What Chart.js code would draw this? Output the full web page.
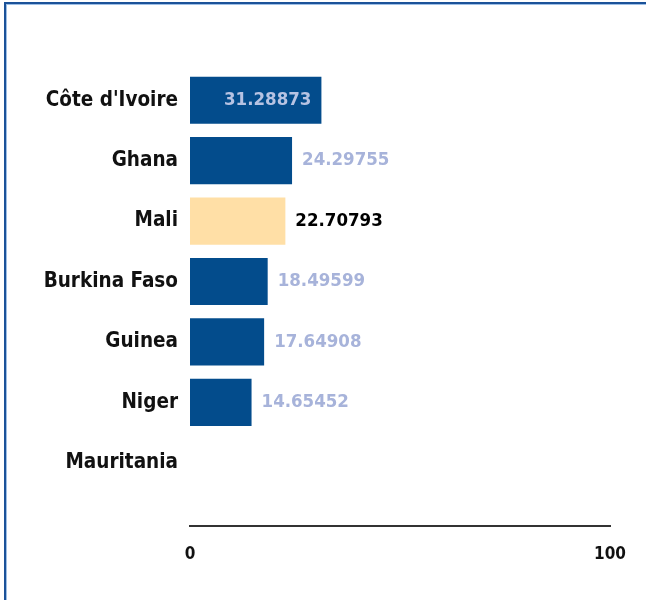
<!DOCTYPE html>
<html>
<head>
<meta charset="utf-8">
<script src="https://cdn.jsdelivr.net/npm/chart.js@4.4.1/dist/chart.umd.min.js"></script>
<style>
  html, body { margin: 0; padding: 0; background: #fff; }
  #wrap { position: relative; width: 646px; height: 600px; overflow: hidden; }
  #frame { position: absolute; left: 4px; top: 2px; width: 700px; height: 700px;
           border-left: 2px solid #1b5299; border-top: 2px solid #1b5299;
           box-shadow: inset 1px 1px 0 #9dbfe6; }
  #c { position: absolute; left: 0; top: 0; }
</style>
</head>
<body>
<div id="wrap">
  <div id="frame"></div>
  <canvas id="c" width="646" height="600"></canvas>
</div>
<script>
// data
const countries = ['Côte d\'Ivoire', 'Ghana', 'Mali', 'Burkina Faso', 'Guinea', 'Niger', 'Mauritania'];
const values = [31.28873, 24.29755, 22.70793, 18.49599, 17.64908, 14.65452, null];
const highlight = 'Mali';
const xTicks = [0, 100];

const BLUE = '#034c8c', PEACH = '#ffdfa6';
const FONT = '"DejaVu Sans Condensed", "DejaVu Sans", sans-serif';

// value labels next to / inside the bars
const valueLabels = {
  id: 'valueLabels',
  afterDatasetsDraw(chart) {
    const ctx = chart.ctx;
    const meta = chart.getDatasetMeta(0);
    const maxV = Math.max(...values.filter(v => v != null));
    ctx.save();
    ctx.font = 'bold 18.5px ' + FONT;
    ctx.textBaseline = 'middle';
    meta.data.forEach((bar, i) => {
      const v = values[i];
      if (v == null) return;
      const txt = v.toFixed(5);
      if (v === maxV) {
        ctx.textAlign = 'right';
        ctx.fillStyle = '#b7c3e3';
        ctx.fillText(txt, bar.x - 10, bar.y);
      } else {
        ctx.textAlign = 'left';
        ctx.fillStyle = countries[i] === highlight ? '#000' : '#a7b3da';
        ctx.fillText(txt, bar.x + 10, bar.y);
      }
    });
    ctx.restore();
  }
};

new Chart(document.getElementById('c'), {
  type: 'bar',
  data: {
    labels: countries,
    datasets: [{
      data: values,
      backgroundColor: countries.map(c => c === highlight ? PEACH : BLUE),
      categoryPercentage: 1,
      barPercentage: 0.78
    }]
  },
  options: {
    indexAxis: 'y',
    responsive: false,
    animation: false,
    layout: { padding: { left: 0, right: 36, top: 70, bottom: 107 } },
    plugins: { legend: { display: false }, tooltip: { enabled: false } },
    scales: {
      y: {
        grid: { display: false, drawTicks: false },
        border: { display: false },
        ticks: { color: '#111', padding: 12, font: { family: FONT, size: 20.5, weight: 'bold' } },
        afterFit: s => { s.width = 190; }
      },
      x: {
        position: { y: countries.length + 0.05 },
        min: xTicks[0], max: xTicks[xTicks.length - 1],
        grid: { display: false, drawTicks: false },
        border: { display: true, color: '#333', width: 2 },
        afterBuildTicks: s => { s.ticks = xTicks.map(v => ({ value: v })); },
        ticks: { color: '#111', padding: 18, font: { family: FONT, size: 17, weight: 'bold' } }
      }
    }
  },
  plugins: [valueLabels]
});
</script>
</body>
</html>
